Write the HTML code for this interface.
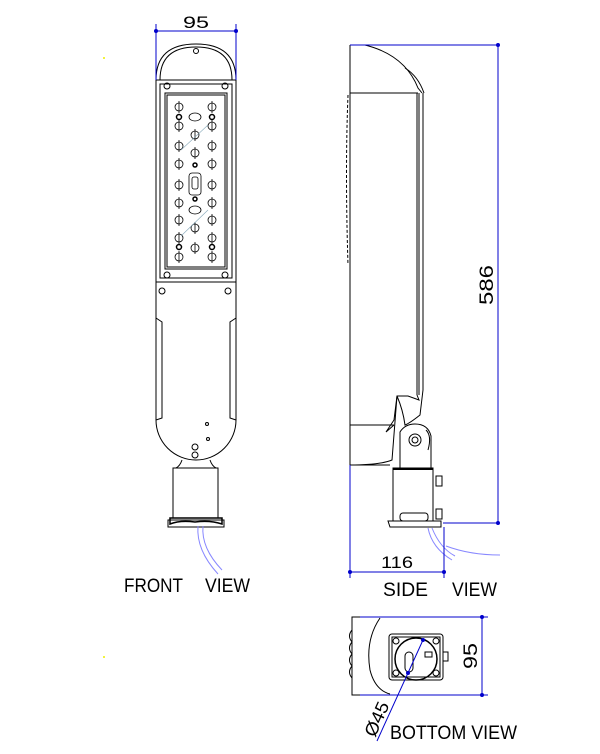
<!DOCTYPE html>
<html><head><meta charset="utf-8"><style>
html,body{margin:0;padding:0;background:#fff;}
svg{display:block;}
text{font-family:"Liberation Sans",sans-serif;}
</style></head><body>
<svg width="600" height="754" viewBox="0 0 600 754" xmlns="http://www.w3.org/2000/svg">
<defs>
<g id="led" fill="none" stroke="#000" stroke-width="0.8">
<circle cx="0" cy="0" r="4"/><line x1="0" y1="-6" x2="0" y2="6"/>
</g>
<g id="col">
<use href="#led" y="107"/><use href="#led" y="126"/><use href="#led" y="146"/><use href="#led" y="164"/><use href="#led" y="185"/><use href="#led" y="203"/><use href="#led" y="220"/><use href="#led" y="238"/><use href="#led" y="257"/>
<circle cx="0" cy="117" r="2.5" fill="none" stroke="#000" stroke-width="1.5"/><circle cx="0" cy="247" r="2.5" fill="none" stroke="#000" stroke-width="1.5"/>
</g>
</defs>
<g fill="none" stroke="#000" stroke-width="1">
<path d="M160 80 Q160 47 196 47 Q232 47 232 80"/>
<path d="M156 80 Q156 44 196 44 Q236 44 236 80"/>
<circle cx="196" cy="51" r="2.5"/>
<rect x="156" y="80" width="80" height="202"/>
<rect x="160" y="84" width="72" height="194"/>
<rect x="165" y="93" width="62" height="176"/>
<rect x="167" y="95" width="58" height="172"/>
<circle cx="167" cy="86" r="3"/><circle cx="225" cy="86" r="3"/>
<circle cx="167" cy="275" r="3"/><circle cx="225" cy="275" r="3"/>
<path d="M156 282 V420 A40 40 0 0 0 236 420 V282"/>
<path d="M156 318 L162 322 V418 L156 420"/>
<path d="M236 318 L230 322 V418 L236 420"/>
<circle cx="162" cy="291" r="3"/><circle cx="228" cy="291" r="3"/>
<circle cx="207" cy="424" r="1.5"/><circle cx="208" cy="439" r="1.5"/>
<circle cx="195" cy="447" r="3"/><circle cx="195" cy="455" r="3"/>
<path d="M182 460 Q180 466 176 468 H216 Q212 466 210 460"/>
<rect x="173" y="468" width="45" height="50"/>
<path d="M170 518 H222 V524 Q210 520 195 522 Q180 520 170 524 Z" stroke-width="1.5"/>
<path d="M168 520 H224 V527 H168 Z"/>
</g>
<use href="#col" x="179"/>
<use href="#col" x="212"/>
<g fill="none" stroke="#000" stroke-width="0.8">
<ellipse cx="195" cy="117" rx="6" ry="4"/>
<use href="#led" x="195" y="135"/><use href="#led" x="195" y="153"/>
<circle cx="195" cy="165" r="2" stroke-width="1.5"/>
<rect x="189" y="173" width="12" height="22" rx="3"/>
<rect x="192" y="177" width="6" height="12" rx="2"/>
<circle cx="195" cy="199" r="2" stroke-width="1.5"/>
<ellipse cx="195" cy="210" rx="6" ry="4"/>
<use href="#led" x="195" y="228"/><use href="#led" x="195" y="248"/>
</g>
<g stroke="#8ab" stroke-width="0.6"><line x1="181" y1="150" x2="208" y2="125"/><line x1="181" y1="236" x2="208" y2="210"/></g>
<path d="M198 526 Q196 550 218 574" stroke="#88f" fill="none"/>
<path d="M203 526 Q201 548 222 570" stroke="#88f" fill="none"/>
<g stroke="#00c" stroke-width="1" fill="#00c">
<line x1="156" y1="24" x2="156" y2="80"/><line x1="236" y1="24" x2="236" y2="80"/>
<line x1="156" y1="31" x2="236" y2="31"/>
<circle cx="156" cy="31" r="1.5"/><circle cx="236" cy="31" r="1.5"/>
</g>
<text x="196" y="28" font-size="17" text-anchor="middle" textLength="26" lengthAdjust="spacingAndGlyphs">95</text>
<text x="124" y="592" font-size="19" textLength="59" lengthAdjust="spacingAndGlyphs">FRONT</text>
<text x="205" y="592" font-size="19" textLength="45" lengthAdjust="spacingAndGlyphs">VIEW</text>

<g fill="none" stroke="#000" stroke-width="1">
<path d="M350 45 V465 H390"/>
<path d="M365 45 Q405 55 418 88 L422 93"/>
<path d="M405 68 Q418 76 424 93"/>
<line x1="350" y1="93" x2="418" y2="93"/>
<line x1="417" y1="93" x2="417" y2="395"/>
<line x1="419" y1="93" x2="419" y2="395"/>
<line x1="423" y1="93" x2="423" y2="390"/>
<path d="M348 95 Q345 170 348 265" stroke-dasharray="3 2"/>
<path d="M417 395 L419 400 L408 396 L397 396 L394 420 L386 432 L394 425"/>
<path d="M397 396 Q403 410 405 425 Q410 423 420 415 L423 390"/>
<line x1="350" y1="425" x2="394" y2="425"/>
<path d="M350 465 Q380 465 392 460 L397 396"/>
<path d="M400 468 V432 Q405 424 415 424 Q428 424 431 436 V468"/>
<circle cx="415" cy="440" r="6"/><circle cx="415" cy="440" r="3"/>
<path d="M426 430 Q432 436 428 450"/>
<rect x="393" y="468" width="40" height="53"/>
<line x1="393" y1="469" x2="433" y2="469" stroke-width="2"/>
<rect x="400" y="513" width="28" height="8" rx="3"/>
<path d="M388 521 H441 V527 H390 Z"/>
<rect x="436" y="476" width="6" height="10"/>
<rect x="436" y="509" width="6" height="10"/>
</g>
<path d="M428 528 Q432 548 452 560" stroke="#88f" fill="none"/>
<path d="M432 528 Q440 548 455 556" stroke="#88f" fill="none"/>
<path d="M446 546 Q470 555 500 555" stroke="#88f" fill="none"/>
<g stroke="#00c" stroke-width="1" fill="#00c">
<line x1="350" y1="45" x2="498" y2="45"/>
<line x1="443" y1="523" x2="498" y2="523"/>
<line x1="498" y1="45" x2="498" y2="523"/>
<circle cx="498" cy="45" r="1.5"/><circle cx="498" cy="523" r="1.5"/>
<line x1="350" y1="465" x2="350" y2="578"/>
<line x1="444" y1="527" x2="444" y2="578"/>
<line x1="350" y1="572" x2="444" y2="572"/>
<circle cx="350" cy="572" r="1.5"/><circle cx="444" cy="572" r="1.5"/>
</g>
<text transform="translate(493,285) rotate(-90)" font-size="19" text-anchor="middle" textLength="40" lengthAdjust="spacingAndGlyphs">586</text>
<text x="397" y="568" font-size="17" text-anchor="middle" textLength="32" lengthAdjust="spacingAndGlyphs">116</text>
<text x="383" y="596" font-size="19" textLength="45" lengthAdjust="spacingAndGlyphs">SIDE</text>
<text x="452" y="596" font-size="19" textLength="45" lengthAdjust="spacingAndGlyphs">VIEW</text>

<g fill="none" stroke="#000" stroke-width="1">
<path d="M360 617 H352 V695 H385"/>
<path d="M352 630 Q347 636 352 642 Q347 648 352 654 Q347 660 352 666 Q347 672 352 678" />
<path d="M380 618 Q365 640 370 670 Q375 690 390 694"/>
<rect x="389" y="634" width="54" height="46" rx="3"/>
<rect x="392" y="637" width="48" height="40"/>
<circle cx="396" cy="641" r="3"/><circle cx="436" cy="641" r="3"/>
<circle cx="396" cy="673" r="3"/><circle cx="436" cy="673" r="3"/>
<circle cx="416" cy="659" r="21" stroke-width="1.5"/>
<rect x="405" y="652" width="8" height="20" rx="4"/>
<rect x="425" y="652" width="7" height="5"/>
<rect x="443" y="652" width="5" height="9"/>
</g>
<g stroke="#00c" stroke-width="1" fill="#00c">
<line x1="360" y1="617" x2="488" y2="617"/>
<line x1="360" y1="695" x2="488" y2="695"/>
<line x1="482" y1="617" x2="482" y2="695"/>
<circle cx="482" cy="617" r="1.5"/><circle cx="482" cy="695" r="1.5"/>
<line x1="423" y1="640" x2="377" y2="741"/>
<circle cx="423" cy="640" r="1.5"/><circle cx="408" cy="673" r="1.5"/>
</g>
<text transform="translate(477,656) rotate(-90)" font-size="19" text-anchor="middle" textLength="26" lengthAdjust="spacingAndGlyphs">95</text>
<text transform="translate(375,738) rotate(-66)" font-size="18" textLength="36" lengthAdjust="spacingAndGlyphs">Ø45</text>
<text x="390" y="739" font-size="19" textLength="127" lengthAdjust="spacingAndGlyphs">BOTTOM VIEW</text>
<circle cx="104" cy="58" r="1" fill="#ee0"/><circle cx="104" cy="657" r="1" fill="#ee0"/>
</svg>
</body></html>
